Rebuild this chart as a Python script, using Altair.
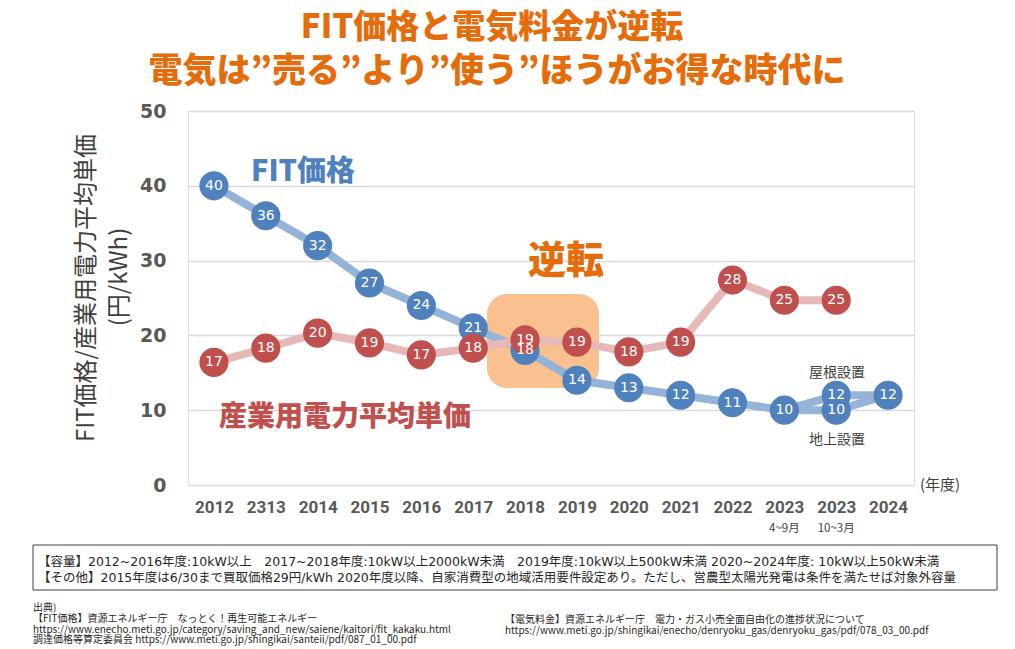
import json
import altair as alt
import pandas as pd

# ---------------- data ----------------
x_labels = ["2012", "2313", "2014", "2015", "2016", "2017", "2018", "2019",
            "2020", "2021", "2022", "2023", "2023", "2024"]
x_sub_idx = [11, 12]
x_sub_labels = ["4~9月", "10~3月"]

fit_idx = [0, 1, 2, 3, 4, 5, 6, 7, 8, 9, 10, 11]
fit_values = [40, 36, 32, 27, 24, 21, 18, 14, 13, 12, 11, 10]
roof_idx = [11, 12, 13]
roof_values = [10, 12, 12]
ground_idx = [11, 12, 13]
ground_values = [10, 10, 12]

elec_idx = [0, 1, 2, 3, 4, 5, 6, 7, 8, 9, 10, 11, 12]
elec_values = [16.4, 18.3, 20.3, 19.0, 17.4, 18.3, 19.4, 19.1, 17.8, 19.1, 27.4, 24.7, 24.7]
elec_labels = ["17", "18", "20", "19", "17", "18", "19", "19", "18", "19", "28", "25", "25"]

title_lines = ["FIT価格と電気料金が逆転", "電気は”売る”より”使う”ほうがお得な時代に"]
y_title_lines = ["FIT価格/産業用電力平均単価", "(円/kWh)"]
note_lines = [
    "【容量】2012~2016年度:10kW以上　2017~2018年度:10kW以上2000kW未満　2019年度:10kW以上500kW未満 2020~2024年度: 10kW以上50kW未満",
    "【その他】2015年度は6/30まで買取価格29円/kWh 2020年度以降、自家消費型の地域活用要件設定あり。ただし、営農型太陽光発電は条件を満たせば対象外容量",
]
source_left = [
    "出典)",
    "【FIT価格】資源エネルギー庁　なっとく！再生可能エネルギー",
    "https://www.enecho.meti.go.jp/category/saving_and_new/saiene/kaitori/fit_kakaku.html",
    "調達価格等算定委員会 https://www.meti.go.jp/shingikai/santeii/pdf/087_01_00.pdf",
]
source_right = [
    "【電気料金】資源エネルギー庁　電力・ガス小売全面自由化の進捗状況について",
    " https://www.meti.go.jp/shingikai/enecho/denryoku_gas/denryoku_gas/pdf/078_03_00.pdf",
]

# ---------------- tables ----------------
blue_lines = pd.DataFrame(
    {"idx": fit_idx + roof_idx + ground_idx,
     "v": fit_values + roof_values + ground_values,
     "s": ["main"] * len(fit_idx) + ["roof"] * len(roof_idx) + ["ground"] * len(ground_idx)}
)
blue_pts = pd.DataFrame(
    {"idx": fit_idx + roof_idx[1:] + ground_idx[1:2],
     "v": fit_values + roof_values[1:] + ground_values[1:2]}
)
blue_pts["lab"] = blue_pts["v"].astype(str)
red = pd.DataFrame({"idx": elec_idx, "v": elec_values, "lab": elec_labels})

CJK = "Noto Sans CJK JP"
MIX = "DejaVu Sans, Noto Sans CJK JP"
BLUE = "#4F81BD"
BLUE_L = "#95B3D7"
RED = "#C0504D"
RED_L = "#E6B9B8"
ORANGE = "#E46C0A"
GRAY = "#595959"

X = alt.X(
    "idx:O",
    scale=alt.Scale(type="point", padding=0.5, domain=list(range(len(x_labels)))),
    axis=alt.Axis(
        title=None, labelAngle=0, ticks=False, domain=False, grid=False,
        labelExpr=json.dumps(x_labels) + "[datum.value]",
        labelFont="Roboto", labelFontWeight="bold", labelFontSize=17,
        labelColor=GRAY, labelPadding=14,
    ),
)
Y = alt.Y(
    "v:Q",
    scale=alt.Scale(domain=[0, 50]),
    axis=alt.Axis(
        title=None, values=[0, 10, 20, 30, 40, 50], ticks=False, domain=False,
        labelFont="DejaVu Sans", labelFontWeight="bold", labelFontSize=19,
        labelColor=GRAY, labelPadding=22, gridColor="#D9D9D9", gridWidth=1.5,
    ),
)


def txt(text, x, y, **kw):
    return alt.Chart(pd.DataFrame({"t": [text]})).mark_text(**kw).encode(
        text="t:N", x=alt.value(x), y=alt.value(y)
    )


one = pd.DataFrame({"a": [0]})

highlight = alt.Chart(one).mark_rect(color="#FAC090", cornerRadius=20).encode(
    x=alt.value(299), x2=alt.value(411), y=alt.value(183), y2=alt.value(277)
)

blue_line = alt.Chart(blue_lines).mark_line(color=BLUE_L, strokeWidth=8).encode(
    x=X, y=Y, detail="s:N"
)
red_line = alt.Chart(red).mark_line(color=RED_L, strokeWidth=8).encode(x=X, y=Y)
blue_point = alt.Chart(blue_pts).mark_circle(color=BLUE, size=850, opacity=1).encode(x=X, y=Y)
red_point = alt.Chart(red).mark_circle(color=RED, size=850, opacity=1).encode(x=X, y=Y)
blue_text = alt.Chart(blue_pts).mark_text(
    color="white", font="DejaVu Sans", fontSize=14, baseline="middle"
).encode(x=X, y=Y, text="lab:N")
red_text = alt.Chart(red).mark_text(
    color="white", font="DejaVu Sans", fontSize=14, baseline="middle"
).encode(x=X, y=Y, text="lab:N")

sub = alt.Chart(pd.DataFrame({"idx": x_sub_idx, "t": x_sub_labels})).mark_text(
    font=CJK, fontSize=11.5, color="#404040", baseline="middle"
).encode(x=X, y=alt.value(418), text="t:N")

notes_box = alt.Chart(one).mark_rect(fillOpacity=0, stroke="#404040", strokeWidth=1).encode(
    x=alt.value(-155), x2=alt.value(809), y=alt.value(434), y2=alt.value(479)
)

SRC = dict(font=CJK, fontSize=10, color="#262626", align="left", baseline="middle")
annots = [
    txt(title_lines[0], 304, -83, font=CJK, fontSize=33, fontWeight=900, color=ORANGE, baseline="middle"),
    txt(title_lines[1], 309, -39, font=CJK, fontSize=34, fontWeight=900, color=ORANGE, baseline="middle"),
    txt(y_title_lines[0], -101, 177, font=CJK, fontSize=24, color="#404040", angle=270, baseline="middle"),
    txt(y_title_lines[1], -68, 166, font=CJK, fontSize=24, color="#404040", angle=270, baseline="middle"),
    txt("FIT価格", 115, 61, font=CJK, fontSize=29, fontWeight=900, color=BLUE, baseline="middle"),
    txt("逆転", 378, 151, font=CJK, fontSize=38, fontWeight=900, color=ORANGE, baseline="middle"),
    txt("産業用電力平均単価", 157, 307, font=CJK, fontSize=28, fontWeight=900, color=RED, baseline="middle"),
    txt("屋根設置", 649, 262, font=CJK, fontSize=14, color="#404040", baseline="middle"),
    txt("地上設置", 649, 329, font=CJK, fontSize=14, color="#404040", baseline="middle"),
    txt("(年度)", 752, 374, font=CJK, fontSize=15, color="#404040", baseline="middle"),
    txt(note_lines[0], -150, 451, font=MIX, fontSize=12.5, color="#262626", align="left", baseline="middle"),
    txt(note_lines[1], -150, 467, font=MIX, fontSize=12.5, color="#262626", align="left", baseline="middle"),
    txt(source_left[0], -155, 497, **SRC),
    txt(source_left[1], -155, 508, **SRC),
    txt(source_left[2], -155, 518.5, **SRC),
    txt(source_left[3], -155, 529, **SRC),
    txt(source_right[0], 317, 509, **SRC),
    txt(source_right[1], 317, 519.5, **SRC),
]

chart = alt.layer(
    highlight, blue_line, red_line, blue_point, red_point, blue_text, red_text, sub,
    notes_box, *annots
).properties(
    width=726, height=374,
    autosize=alt.AutoSizeParams(type="none"),
    padding={"left": 180, "top": 103, "right": 93, "bottom": 164},
).configure_view(stroke="#BFBFBF", strokeWidth=1.5).configure(background="white")

chart.save("out.html", embed_options={"renderer": "svg", "actions": False})
